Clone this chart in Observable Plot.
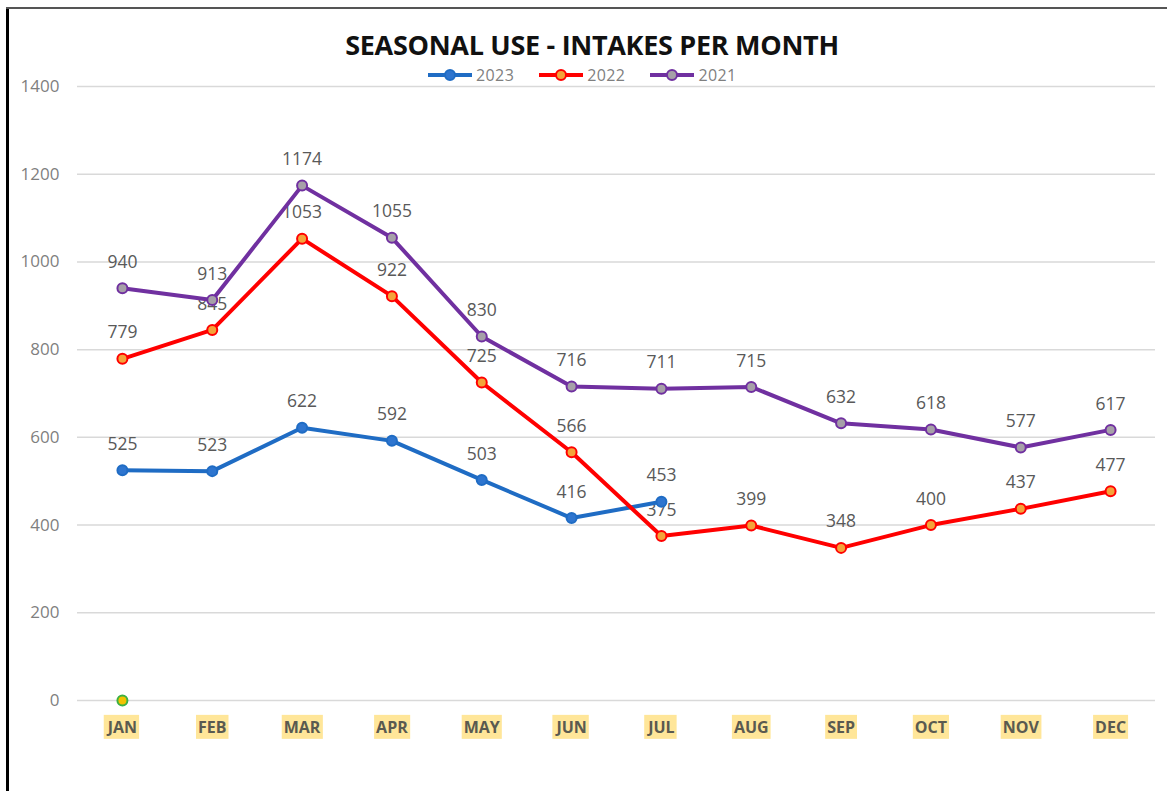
<!DOCTYPE html>
<html>
<head>
<meta charset="utf-8">
<script src="https://cdn.jsdelivr.net/npm/d3@7"></script>
<script src="https://cdn.jsdelivr.net/npm/@observablehq/plot@0.6"></script>
<style>
  html, body { margin: 0; padding: 0; background: #fff; }
  #wrap { position: relative; width: 1167px; height: 791px; overflow: hidden; background: #fff; font-family: "Open Sans", "Liberation Sans", sans-serif; }
  #frameL { position: absolute; left: 6px; top: 7px; width: 3px; height: 784px; background: #000; }
  #frameT { position: absolute; left: 6px; top: 7px; width: 1161px; height: 2px; background: #555; }
  #title { position: absolute; top: 32px; left: 592px; transform: translateX(-50%); white-space: nowrap; font-weight: bold; font-size: 27px; line-height: 26px; color: #111; font-family: "Open Sans", "Liberation Sans", sans-serif; letter-spacing: -0.3px; }
  #legend { position: absolute; top: 66px; left: 428px; display: flex; align-items: center; font-size: 16px; line-height: 18px; color: #7f7f7f; letter-spacing: 0.4px; }
  .item { display: flex; align-items: center; margin-right: 25px; }
  .item svg { margin-right: 4px; }
  #chart { position: absolute; left: 0; top: 0; }
</style>
</head>
<body>
<div id="wrap">
  <div id="chart"></div>
  <div id="frameL"></div>
  <div id="frameT"></div>
  <div id="title"></div>
  <div id="legend"></div>
</div>
<script>
const titleText = "SEASONAL USE - INTAKES PER MONTH";
const months = ["JAN","FEB","MAR","APR","MAY","JUN","JUL","AUG","SEP","OCT","NOV","DEC"];
const seriesNames = ["2023","2022","2021"];
const values2023 = [525, 523, 622, 592, 503, 416, 453];
const values2022 = [779, 845, 1053, 922, 725, 566, 375, 399, 348, 400, 437, 477];
const values2021 = [940, 913, 1174, 1055, 830, 716, 711, 715, 632, 618, 577, 617];
const strayMonths = ["JAN"];
const strayValues = [0];
const yTicks = [0, 200, 400, 600, 800, 1000, 1200, 1400];

const styles = {
  "2023": {line: "#1f6cc4", fill: "#2e75cf"},
  "2022": {line: "#ff0000", fill: "#f4a33a"},
  "2021": {line: "#7030a0", fill: "#a6a0a8"}
};
const valuesBy = {"2023": values2023, "2022": values2022, "2021": values2021};

const rows = seriesNames.flatMap(s => valuesBy[s].map((v, i) => ({series: s, month: months[i], value: v})));
const stray = strayMonths.map((m, i) => ({month: m, value: strayValues[i]}));

document.getElementById("title").textContent = titleText;
const legend = document.getElementById("legend");
for (const s of seriesNames) {
  const it = document.createElement("div");
  it.className = "item";
  it.innerHTML = `<svg width="44" height="14"><line x1="0" x2="44" y1="7" y2="7" stroke="${styles[s].line}" stroke-width="4"/><circle cx="22" cy="7" r="5" fill="${styles[s].fill}" stroke="${styles[s].line}" stroke-width="2"/></svg><span>${s}</span>`;
  legend.appendChild(it);
}

const marks = [
  Plot.gridY(yTicks, {stroke: "#d9d9d9", strokeOpacity: 1, strokeWidth: 1.5}),
  Plot.axisY(yTicks, {tickSize: 0, tickPadding: 18, fontSize: 17, fill: "#7f7f7f", textAnchor: "end", tickFormat: d => String(d)}),
  Plot.axisX({tickSize: 0, tickPadding: 21, fontSize: 16, fontWeight: "bold", fill: "#5a5a50"}),
  Plot.text(rows, {x: "month", y: "value", text: d => String(d.value), dy: -26, fontSize: 17.5, fill: "#595959", fontFamily: "Open Sans, Liberation Sans, sans-serif"})
];
for (const s of seriesNames) {
  const data = rows.filter(d => d.series === s);
  marks.push(Plot.line(data, {x: "month", y: "value", stroke: styles[s].line, strokeWidth: 4, curve: "linear"}));
}
for (const s of seriesNames) {
  const data = rows.filter(d => d.series === s);
  marks.push(Plot.dot(data, {x: "month", y: "value", r: 5, fill: styles[s].fill, stroke: styles[s].line, strokeWidth: 2}));
}
marks.push(Plot.dot(stray, {x: "month", y: "value", r: 5, fill: "#f2c200", stroke: "#3cb043", strokeWidth: 2}));

const svg = Plot.plot({
  width: 1167,
  height: 791,
  marginLeft: 77,
  marginRight: 12,
  marginTop: 86,
  marginBottom: 91,
  style: {fontFamily: "Open Sans, Liberation Sans, sans-serif", background: "transparent"},
  x: {type: "band", domain: months, padding: 0, round: false, label: null},
  y: {domain: [0, 1400], label: null},
  marks
});
document.getElementById("chart").appendChild(svg);

// yellow highlight behind month labels
const xg = svg.querySelector('[aria-label="x-axis tick label"]');
if (xg) {
  for (const t of Array.from(xg.querySelectorAll("text"))) {
    const b = t.getBBox();
    const r = document.createElementNS("http://www.w3.org/2000/svg", "rect");
    r.setAttribute("x", b.x - 2);
    r.setAttribute("y", b.y - 1);
    r.setAttribute("width", b.width + 4);
    r.setAttribute("height", b.height + 2);
    r.setAttribute("fill", "#ffe699");
    r.setAttribute("stroke", "none");
    const tr = t.getAttribute("transform");
    if (tr) r.setAttribute("transform", tr);
    xg.insertBefore(r, t);
  }
}
</script>
</body>
</html>
